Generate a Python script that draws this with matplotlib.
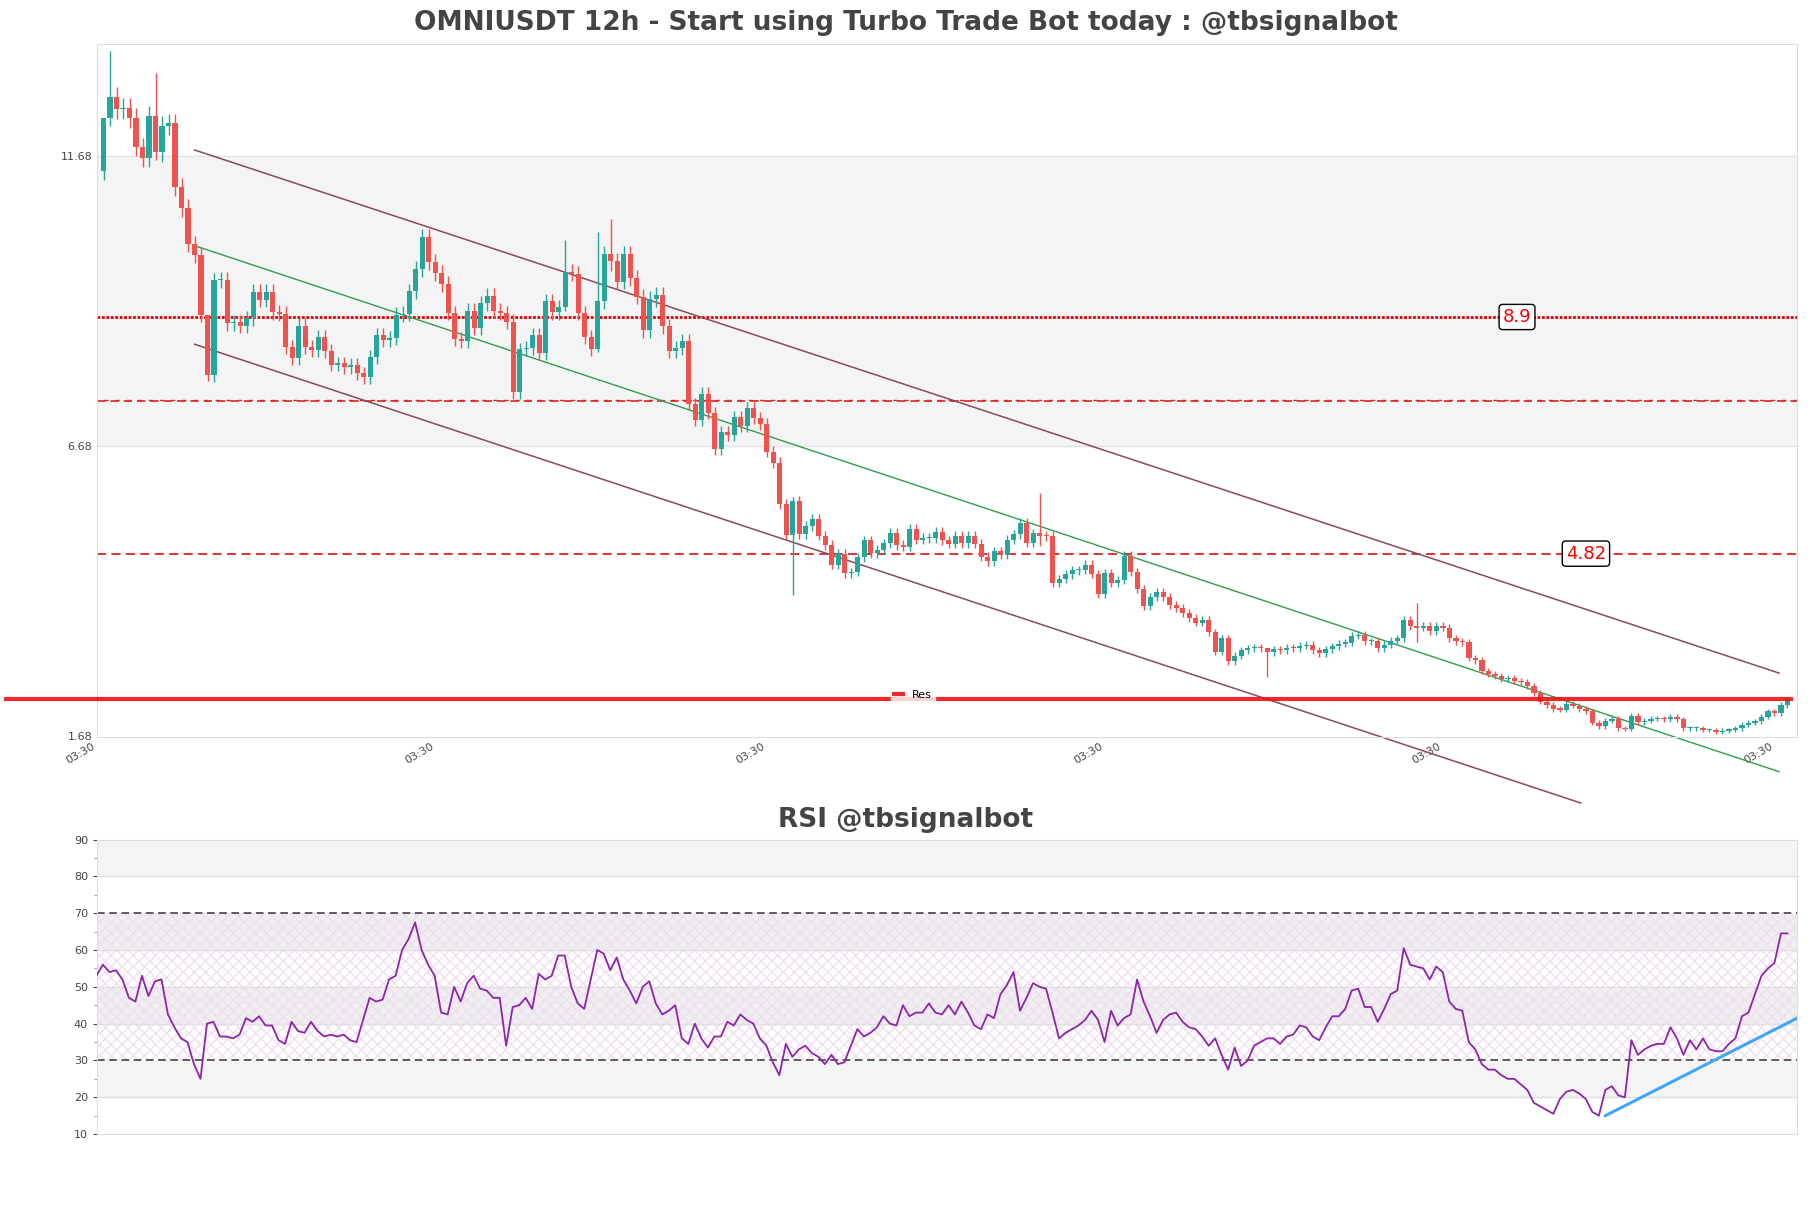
import matplotlib.pyplot as plt
import numpy as np

# candle closes (open = previous close)
first_open = 11.41
closes = [
    12.33, 12.69, 12.48, 12.50, 12.33, 11.83, 11.64, 12.37, 11.74, 12.20, 12.24, 11.14, 10.78, 10.16, 9.97, 8.94,
    7.90, 9.53, 9.54, 8.79, 8.81, 8.75, 8.88, 9.33, 9.20, 9.33, 8.98, 8.96, 8.39, 8.19, 8.75, 8.39,
    8.33, 8.55, 8.32, 8.08, 8.10, 8.04, 8.08, 7.93, 7.86, 8.21, 8.59, 8.51, 8.54, 8.94, 8.96, 9.34,
    9.73, 10.28, 9.84, 9.66, 9.47, 8.97, 8.52, 8.48, 9.01, 8.71, 9.14, 9.27, 9.01, 8.97, 8.82, 7.60,
    8.34, 8.36, 8.59, 8.28, 9.17, 8.98, 9.07, 9.67, 9.65, 8.97, 8.55, 8.35, 9.17, 9.99, 9.87, 9.51,
    9.99, 9.57, 9.25, 8.67, 9.21, 9.28, 8.74, 8.31, 8.36, 8.49, 7.40, 7.12, 7.58, 7.24, 6.62, 6.91,
    6.87, 7.18, 7.02, 7.33, 7.16, 7.06, 6.58, 6.39, 5.68, 5.14, 5.72, 5.16, 5.30, 5.41, 5.13, 4.97,
    4.63, 4.82, 4.48, 4.50, 4.76, 5.05, 4.83, 4.89, 5.00, 5.18, 4.97, 4.94, 5.24, 5.06, 5.09, 5.09,
    5.20, 5.05, 4.99,
    5.12, 5.00, 5.13, 4.99, 4.77, 4.69, 4.86, 4.80, 5.06, 5.15, 5.35, 5.01, 5.17, 5.13, 5.12, 4.32,
    4.38, 4.46, 4.53, 4.54, 4.63, 4.47, 4.13, 4.48, 4.32, 4.37, 4.78, 4.50, 4.21, 3.91, 4.08, 4.15,
    4.08, 3.94, 3.88, 3.80, 3.71, 3.63, 3.68, 3.46, 3.13, 3.36, 2.96, 3.06, 3.15, 3.19, 3.21, 3.19,
    3.12, 3.17, 3.15, 3.20, 3.19, 3.23, 3.25, 3.15, 3.10, 3.17, 3.22, 3.27, 3.28, 3.40, 3.42, 3.31, 3.31, 3.19,
    3.25, 3.32, 3.36, 3.68, 3.57, 3.54, 3.57, 3.48, 3.57, 3.54, 3.36, 3.31, 3.29, 3.02, 2.98, 2.79,
    2.75, 2.71, 2.66, 2.67, 2.63, 2.60, 2.54, 2.42, 2.27, 2.21, 2.14, 2.13, 2.23, 2.20, 2.14, 2.10,
    1.90, 1.84, 1.94, 1.97, 1.81, 1.80, 2.02, 1.91, 1.94, 1.97, 1.98, 1.96, 2.01, 1.96, 1.81, 1.81,
    1.81, 1.78, 1.78, 1.75, 1.77, 1.78, 1.81, 1.87, 1.90, 1.93, 2.01, 2.10, 2.07, 2.21, 2.30,
]
# notable wicks: index -> (high, low)
big_wicks = {0: (11.9, 11.26), 1: (13.48, 12.2), 8: (13.10, 11.6), 16: (8.9, 7.8), 71: (10.23, 9.0),
             76: (10.36, 8.3), 78: (10.59, 9.7), 106: (5.8, 4.11), 144: (5.86, 4.95), 179: (3.2, 2.70),
             202: (3.97, 3.3)}

rsi = [
    53, 56, 54, 54.5, 52, 47, 46, 53, 47.5, 51.5, 52, 42.5, 39, 36, 35, 29, 25, 40, 40.5, 36.5, 36.5, 36,
    37, 41.5, 40.5, 42, 39.5, 39.5, 35.5, 34.5, 40.5, 38, 37.5, 40.5, 38, 36.5, 37, 36.5, 37, 35.5, 35,
    41, 47, 46, 46.5, 52, 53, 60, 63, 67.5, 60, 56, 53, 43, 42.5, 50, 46, 51, 53, 49.5, 49, 47, 47, 34,
    44.5, 45, 47, 44, 53.5, 52, 53, 58.5, 58.5, 50, 45.5, 44, 52, 60, 59, 54.5, 58, 52, 49, 45.5, 50,
    51.5, 45.5, 42.5, 43.5, 45, 36, 34.5, 40, 36, 33.5, 36.5, 36.5, 40.5, 39.5, 42.5, 41, 40, 36, 34,
    29.5, 26, 34.5, 31, 33, 34, 32, 31, 29, 31.5, 29, 29.5, 34, 38.5, 36.5, 37.5, 39, 42, 40, 39.5, 45,
    42, 43, 43, 45.5, 43, 42.5, 45, 42.5, 46, 43, 39.5, 38.5, 42.5, 41.5, 48, 50.5, 54, 43.5, 47, 51,
    50, 49.5, 43, 36, 37.5, 38.5, 39.5, 41, 43.5, 41, 35, 43.5, 39.5, 41.5, 42.5, 52, 46, 42, 37.5, 41,
    42.5, 43, 40.5, 39, 38.5, 36.5, 34, 36, 31.5, 27.5, 33.5, 28.5, 30, 34, 35, 36, 36, 34.5, 36.5, 37,
    39.5, 39, 36.5, 35.5, 39, 42, 42, 44, 49, 49.5, 44.5, 44.5, 40.5, 44, 48, 49, 60.5, 56, 55.5, 55,
    52, 55.5, 54, 46, 44, 43.5, 35, 33, 29, 27.5, 27.5, 26, 25, 25, 23.5, 22, 18.5, 17.5, 16.5, 15.5,
    19.5, 21.5, 22, 21, 19.5, 16, 15, 22, 23, 20.5, 20, 35.5, 31.5, 33, 34, 34.5, 34.5, 39, 36, 31.5,
    35.5, 33, 36, 33, 32.5, 32.5, 34.5, 36, 42, 43, 48, 53, 55, 56.5, 64.5, 64.5,
]

levels_dotted = 8.9
levels_dashed = [7.45, 4.82]
res_level = 2.32
channel_x = [14, 257.7]
channel_upper = [11.78, 2.76]
channel_mid = [10.13, 1.06]
lower_x = [14, 227.2]
channel_lower = [8.43, 0.52]
tick_pos = [-1, 51, 102, 154, 206, 257]
rsi_trend_x = [231, 260.5]
rsi_trend_y = [15, 41.5]

UP, DOWN = "#26a69a", "#ef5350"
TXT = "#444444"

fig = plt.figure(figsize=(18.11, 12.08), dpi=100)
ax = fig.add_axes([0.0536, 0.39, 0.9388, 0.5737])
ax2 = fig.add_axes([0.0536, 0.0612, 0.9388, 0.2438])

n = len(closes)
opens = [first_open] + closes[:-1]
for i in range(n):
    o, c = opens[i], closes[i]
    col = UP if c >= o else DOWN
    hi, lo = big_wicks.get(i, (max(o, c) * 1.012 + 0.02, min(o, c) * 0.988 - 0.02))
    ax.vlines(i, lo, hi, color=col, lw=1.0, zorder=3)
    ax.bar(i, max(abs(c - o), 0.02), bottom=min(o, c), width=0.8, color=col, zorder=4)

ax.axhspan(6.68, 11.68, color="#f4f4f4", zorder=0)
ax.axhline(11.68, color="#e4e4e4", lw=1, zorder=0.5)
ax.axhline(6.68, color="#e4e4e4", lw=1, zorder=0.5)
ax.axhline(levels_dotted, color="#dd0000", lw=2, ls=(0, (1, 0.6)), zorder=2)
ax.axhline(levels_dashed[0], color="#dd2222", lw=1.2, ls=(0, (5, 3)), zorder=2)
ax.axhline(levels_dashed[0] + 0.02, color="#dd2222", lw=1.0, ls=(3, (3, 5)), zorder=2)
ax.axhline(levels_dashed[1], color="#dd2222", lw=1.3, ls=(0, (5, 3)), zorder=2)
box = dict(boxstyle="round,pad=0.2", fc="white", ec="black", lw=1)
ax.text(217.4, levels_dotted, "8.9", color="red", fontsize=13, ha="center", va="center", bbox=box, zorder=6)
ax.text(228, levels_dashed[1], "4.82", color="red", fontsize=13, ha="center", va="center", bbox=box, zorder=6)

ax.plot(channel_x, channel_upper, color="#8a4a5a", lw=1.1, zorder=2)
ax.plot(channel_x, channel_mid, color="#2e9e4e", lw=1.0, zorder=2, clip_on=False)
ax.plot(lower_x, channel_lower, color="#8a4a5a", lw=1.1, zorder=2, clip_on=False)
res_line, = ax.plot([-15, 259.5], [res_level, res_level], color="#ee1111", lw=3, alpha=0.9,
                    zorder=5, clip_on=False, label="Res")
leg = ax.legend(handles=[res_line], loc="center", bbox_to_anchor=(0.48, 0.06), frameon=True,
                fontsize=8, handlelength=0.8, borderpad=0.3)
leg.get_frame().set_edgecolor("white")

ax.set_xlim(-0.9, 260.5)
ax.set_ylim(1.66, 13.61)
ax.set_yticks([1.68, 6.68, 11.68])
ax.set_yticklabels(["1.68", "6.68", "11.68"])
ax.set_xticks(tick_pos)
ax.set_xticklabels(["03:30"] * len(tick_pos), rotation=30, ha="right")
ax.tick_params(labelsize=8, colors=TXT, length=0)
for s in ax.spines.values():
    s.set_color("#dddddd")
fig.text(0.5, 0.981, "OMNIUSDT 12h - Start using Turbo Trade Bot today : @tbsignalbot",
         fontsize=19, fontweight="bold", color=TXT, ha="center", va="center")

# RSI panel
ax2.axhspan(80, 90, color="#f4f4f4", zorder=0)
ax2.axhspan(20, 30, color="#f4f4f4", zorder=0)
ax2.axhspan(60, 70, color="#efeff2", zorder=0)
ax2.axhspan(40, 50, color="#efeff2", zorder=0)
ax2.axhspan(30, 70, facecolor="none", edgecolor="#f0dff0", hatch="xxx", lw=0, zorder=0.5)
for lvl in [20, 40, 50, 60, 80]:
    ax2.axhline(lvl, color="#e0e0e0", lw=1, zorder=0.6)
ax2.axhline(70, color="#333333", lw=1.1, ls=(0, (5, 3)), zorder=2)
ax2.axhline(30, color="#333333", lw=1.1, ls=(0, (5, 3)), zorder=2)
ax2.plot(np.arange(len(rsi)) - 1, rsi, color="#8e24aa", lw=1.3, zorder=3)
ax2.plot(rsi_trend_x, rsi_trend_y, color="#42a5f5", lw=2.2, zorder=4)
ax2.set_xlim(-0.9, 260.5)
ax2.set_ylim(10, 90)
ax2.set_yticks(range(10, 91, 10))
ax2.set_yticks(range(15, 90, 10), minor=True)
ax2.set_xticks([])
ax2.tick_params(labelsize=8, colors=TXT, length=3)
ax2.tick_params(which="minor", length=2, colors="#888888")
for s in ax2.spines.values():
    s.set_color("#dddddd")
fig.text(0.5, 0.321, "RSI @tbsignalbot", fontsize=19, fontweight="bold", color=TXT,
         ha="center", va="center")

fig.savefig("out.png", dpi=100)
